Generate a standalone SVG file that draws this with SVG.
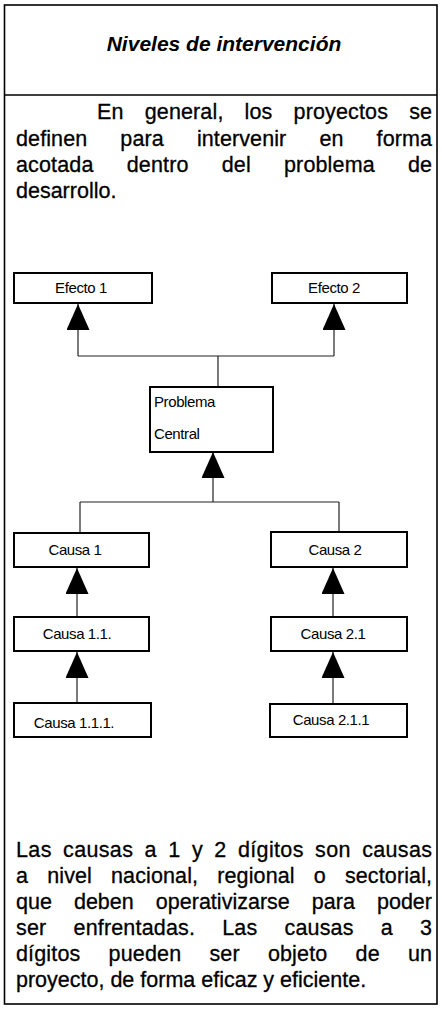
<svg xmlns="http://www.w3.org/2000/svg" width="442" height="1009" viewBox="0 0 442 1009">
<defs>
<style>
.frame{fill:none;stroke:#000;stroke-width:1.6}
.box{fill:#fff;stroke:#000;stroke-width:2}
.conn{fill:none;stroke:#222;stroke-width:1.2}
.lbl{font-family:"Liberation Sans",Arial,sans-serif;font-size:15px;fill:#000;letter-spacing:-0.4px}
.body{font-family:"Liberation Sans",Arial,sans-serif;font-size:21.5px;fill:#000;stroke:#000;stroke-width:0.3}
.title{font-family:"Liberation Sans",Arial,sans-serif;font-size:21px;font-weight:bold;font-style:italic;fill:#000}
</style>
<marker id="ah" markerUnits="userSpaceOnUse" markerWidth="26" markerHeight="23" viewBox="0 0 26 23" refX="26" refY="11.5" orient="auto">
<path d="M0,0 L26,11.5 L0,23 Z" fill="#000"/>
</marker>
</defs>
<rect width="442" height="1009" fill="#fff"/>
<g id="frame">
<rect class="frame" x="4.5" y="5" width="432.5" height="999"/>
<line class="frame" x1="4.5" y1="95" x2="437" y2="95"/>
</g>
<g id="title">
<text class="title" x="224" y="51" text-anchor="middle">Niveles de intervención</text>
</g>
<g id="intro">
<text class="body" x="97" y="119" textLength="335" lengthAdjust="spacing" style="word-spacing:15px">En general, los proyectos se</text>
<text class="body" x="16" y="146" textLength="416" lengthAdjust="spacing" style="word-spacing:27px">definen para intervenir en forma</text>
<text class="body" x="16" y="172" textLength="416" lengthAdjust="spacing" style="word-spacing:27px">acotada dentro del problema de</text>
<text class="body" x="16" y="198">desarrollo.</text>
</g>
<g id="connectors">
<path class="conn" d="M78,356 H334"/>
<path class="conn" d="M78,356 V304" marker-end="url(#ah)"/>
<path class="conn" d="M334,356 V304" marker-end="url(#ah)"/>
<path class="conn" d="M218,387 V356"/>
<path class="conn" d="M80,502 H339"/>
<path class="conn" d="M213,502 V452" marker-end="url(#ah)"/>
<path class="conn" d="M80,533 V502"/>
<path class="conn" d="M339,532 V502"/>
<path class="conn" d="M77,617 V568" marker-end="url(#ah)"/>
<path class="conn" d="M333,617 V568" marker-end="url(#ah)"/>
<path class="conn" d="M77,703 V652" marker-end="url(#ah)"/>
<path class="conn" d="M333,704 V652" marker-end="url(#ah)"/>
</g>
<g id="efecto1">
<rect class="box" x="14" y="273" width="138" height="30"/>
<text class="lbl" x="81" y="293" text-anchor="middle">Efecto 1</text>
</g>
<g id="efecto2">
<rect class="box" x="272" y="273" width="135" height="30"/>
<text class="lbl" x="334" y="293" text-anchor="middle">Efecto 2</text>
</g>
<g id="problema">
<rect class="box" x="150" y="387" width="123" height="65"/>
<text class="lbl" x="154" y="407">Problema</text>
<text class="lbl" x="154" y="439">Central</text>
</g>
<g id="causa1">
<rect class="box" x="14" y="533" width="135" height="34"/>
<text class="lbl" x="75" y="555" text-anchor="middle">Causa 1</text>
</g>
<g id="causa2">
<rect class="box" x="271" y="532" width="136" height="35"/>
<text class="lbl" x="335" y="555" text-anchor="middle">Causa 2</text>
</g>
<g id="causa11">
<rect class="box" x="14" y="617" width="135" height="34"/>
<text class="lbl" x="77" y="639" text-anchor="middle">Causa 1.1.</text>
</g>
<g id="causa21">
<rect class="box" x="271" y="617" width="136" height="34"/>
<text class="lbl" x="333" y="639" text-anchor="middle">Causa 2.1</text>
</g>
<g id="causa111">
<rect class="box" x="14" y="703" width="137" height="34"/>
<text class="lbl" x="74" y="728" text-anchor="middle">Causa 1.1.1.</text>
</g>
<g id="causa211">
<rect class="box" x="270" y="704" width="137" height="33"/>
<text class="lbl" x="331" y="725" text-anchor="middle">Causa 2.1.1</text>
</g>
<g id="conclusion">
<text class="body" x="16" y="857" textLength="416" lengthAdjust="spacing" style="word-spacing:5px">Las causas a 1 y 2 dígitos son causas</text>
<text class="body" x="16" y="883" textLength="416" lengthAdjust="spacing" style="word-spacing:13px">a nivel nacional, regional o sectorial,</text>
<text class="body" x="16" y="909" textLength="416" lengthAdjust="spacing" style="word-spacing:16px">que deben operativizarse para poder</text>
<text class="body" x="16" y="935" textLength="416" lengthAdjust="spacing" style="word-spacing:21px">ser enfrentadas. Las causas a 3</text>
<text class="body" x="16" y="961" textLength="416" lengthAdjust="spacing" style="word-spacing:22px">dígitos pueden ser objeto de un</text>
<text class="body" x="16" y="987">proyecto, de forma eficaz y eficiente.</text>
</g>
</svg>
